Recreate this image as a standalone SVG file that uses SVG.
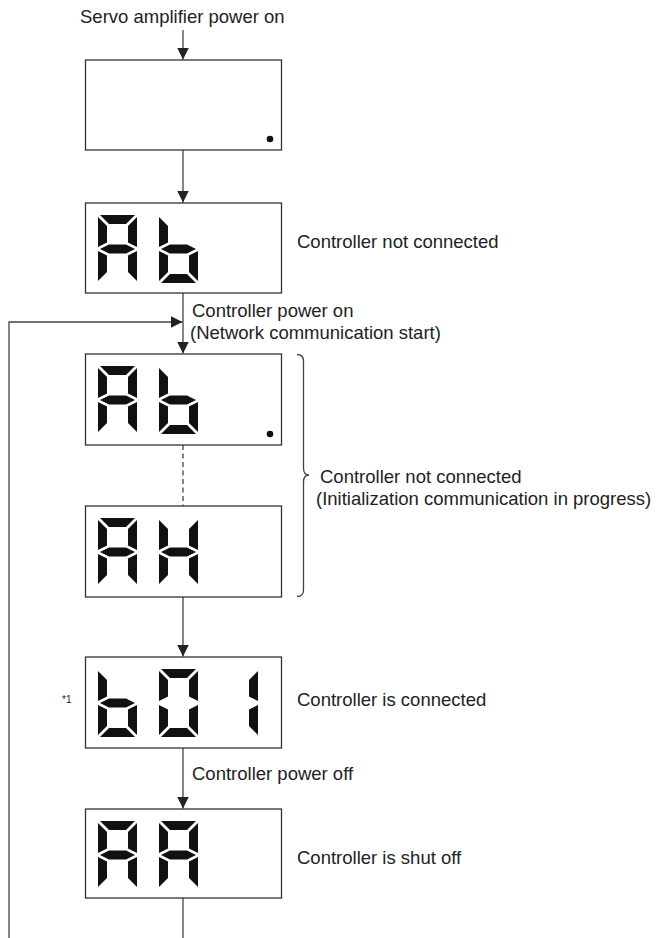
<svg xmlns="http://www.w3.org/2000/svg" xmlns:xlink="http://www.w3.org/1999/xlink" width="658" height="938" viewBox="0 0 658 938">
<style>
.box{fill:#fff;stroke:#333;stroke-width:1.3}
.ln{fill:none;stroke:#444;stroke-width:1.3}
.dash{fill:none;stroke:#444;stroke-width:1.3;stroke-dasharray:5 3.5}
.txt{font-family:"Liberation Sans",Arial,sans-serif;font-size:18.5px;fill:#222}
.sm{font-family:"Liberation Sans",Arial,sans-serif;font-size:10px;fill:#222}
.seg{fill:#111}
</style>
<defs>
<marker id="arr" markerUnits="userSpaceOnUse" markerWidth="14" markerHeight="14" viewBox="0 0 14 14" refX="12" refY="7" orient="auto">
<path d="M0,1 L12,7 L0,13 Z" fill="#222"/>
</marker>
<polygon id="sa" class="seg" points="2,0 37,0 28,9 11,9"/>
<polygon id="sb" class="seg" points="39,2 30,11 30,27.5 39,32"/>
<polygon id="sc" class="seg" points="39,36 30,40.5 30,57 39,66"/>
<polygon id="sd" class="seg" points="2,68 37,68 28,59 11,59"/>
<polygon id="se" class="seg" points="0,36 9,40.5 9,57 0,66"/>
<polygon id="sf" class="seg" points="0,2 9,11 9,27.5 0,32"/>
<polygon id="sg" class="seg" points="2,34 11,29.5 28,29.5 37,34 28,38.5 11,38.5"/>
<g id="chA"><use href="#sa"/><use href="#sb"/><use href="#sc"/><use href="#se"/><use href="#sf"/><use href="#sg"/></g>
<g id="chb"><use href="#sc"/><use href="#sd"/><use href="#se"/><use href="#sf"/><use href="#sg"/></g>
<g id="chH"><use href="#sb"/><use href="#sc"/><use href="#se"/><use href="#sf"/><use href="#sg"/></g>
<g id="ch0"><use href="#sa"/><use href="#sb"/><use href="#sc"/><use href="#sd"/><use href="#se"/><use href="#sf"/></g>
<g id="ch1"><use href="#sb"/><use href="#sc"/></g>
</defs>

<g id="connectors">
<line class="ln" x1="183" y1="30" x2="183" y2="59.5" marker-end="url(#arr)"/>
<line class="ln" x1="183" y1="150" x2="183" y2="202.5" marker-end="url(#arr)"/>
<line class="ln" x1="183" y1="293" x2="183" y2="353.5" marker-end="url(#arr)"/>
<polyline class="ln" points="9,938 9,322 182.5,322" marker-end="url(#arr)"/>
<line class="dash" x1="183" y1="445" x2="183" y2="506"/>
<line class="ln" x1="183" y1="597" x2="183" y2="656.5" marker-end="url(#arr)"/>
<line class="ln" x1="183" y1="748" x2="183" y2="808.5" marker-end="url(#arr)"/>
<line class="ln" x1="183" y1="898" x2="183" y2="938"/>
<path class="ln" d="M297,354.5 Q303.5,354.5 303.5,361 L303.5,468 Q303.5,475 309,475 Q303.5,475 303.5,482 L303.5,590 Q303.5,596.5 297,596.5"/>
</g>

<g id="labels">
<text class="txt" x="80" y="22.5">Servo amplifier power on</text>
<text class="txt" x="192" y="317">Controller power on</text>
<text class="txt" x="190" y="339">(Network communication start)</text>
<text class="txt" x="320" y="483">Controller not connected</text>
<text class="txt" x="316" y="505">(Initialization communication in progress)</text>
<text class="txt" x="192" y="780">Controller power off</text>
</g>

<g id="n1">
<rect class="box" x="85.5" y="60" width="196" height="90"/>
<circle cx="270" cy="139" r="3.3" fill="#111"/>
</g>

<g id="n2">
<rect class="box" x="85.5" y="203" width="196" height="90"/>
<use href="#chA" x="98" y="215"/>
<use href="#chb" x="159" y="215"/>
<text class="txt" x="297" y="248">Controller not connected</text>
</g>

<g id="n3">
<rect class="box" x="85.5" y="354" width="196" height="91"/>
<use href="#chA" x="98" y="366"/>
<use href="#chb" x="159" y="366"/>
<circle cx="270" cy="434" r="3.3" fill="#111"/>
</g>

<g id="n4">
<rect class="box" x="85.5" y="506" width="196" height="91"/>
<use href="#chA" x="98" y="518"/>
<use href="#chH" x="159" y="518"/>
</g>

<g id="n5">
<rect class="box" x="85.5" y="657" width="196" height="91"/>
<use href="#chb" x="98" y="669"/>
<use href="#ch0" x="159" y="669"/>
<use href="#ch1" x="219" y="669"/>
<text class="sm" x="62" y="703">*1</text>
<text class="txt" x="297" y="706">Controller is connected</text>
</g>

<g id="n6">
<rect class="box" x="85.5" y="809" width="196" height="89"/>
<use href="#chA" x="98" y="821"/>
<use href="#chA" x="159" y="821"/>
<text class="txt" x="297" y="864">Controller is shut off</text>
</g>
</svg>
